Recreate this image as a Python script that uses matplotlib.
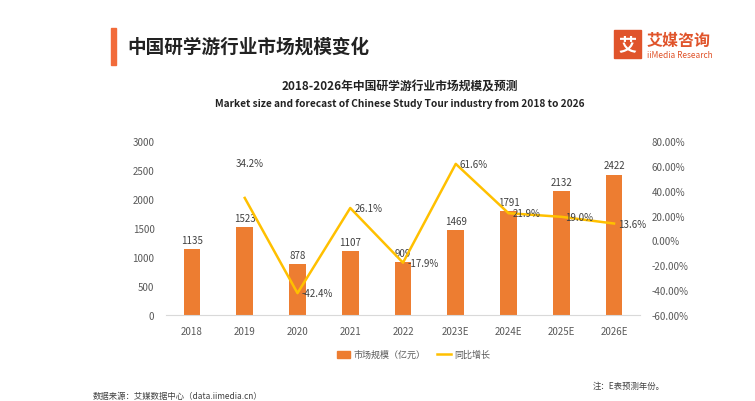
import numpy as np
import matplotlib.pyplot as plt
from matplotlib.patches import Rectangle

plt.rcParams['font.family'] = ['Noto Sans CJK SC', 'DejaVu Sans']

years = ['2018', '2019', '2020', '2021', '2022', '2023E', '2024E', '2025E', '2026E']
market = [1135, 1523, 878, 1107, 909, 1469, 1791, 2132, 2422]
growth = [None, 34.2, -42.4, 26.1, -17.9, 61.6, 21.9, 19.0, 13.6]

bar_color = '#ED7D31'
line_color = '#FFC000'
txt = '#404040'
tick_c = '#595959'

fig = plt.figure(figsize=(7.55, 4.02), dpi=100)
fig.patch.set_facecolor('white')

# header
fig.patches.append(Rectangle((111/755, 1-66/402), 5/755, 37/402, transform=fig.transFigure,
                             color='#F26B3A', zorder=3))
fig.text(127/755, 1-47/402, '中国研学游行业市场规模变化', fontsize=13.4, fontweight='bold',
         color='#222222', va='center', ha='left')
# logo
fig.patches.append(Rectangle((614/755, 1-59/402), 27/755, 28/402, transform=fig.transFigure,
                             color='#E0542B', zorder=3))
fig.text(627.5/755, 1-45/402, '艾', fontsize=13, fontweight='bold', color='white',
         ha='center', va='center', zorder=4)
fig.text(647/755, 1-41/402, '艾媒咨询', fontsize=11.5, fontweight='bold', color='#E0542B',
         ha='left', va='center')
fig.text(647/755, 1-55/402, 'iiMedia Research', fontsize=6, color='#E0542B',
         ha='left', va='center')

# chart titles
fig.text(400/755, 1-87/402, '2018-2026年中国研学游行业市场规模及预测', fontsize=8.5,
         fontweight='bold', color='#222222', ha='center', va='center')
fig.text(400/755, 1-104/402, 'Market size and forecast of Chinese Study Tour industry from 2018 to 2026',
         fontsize=7.3, fontweight='bold', color='#222222', ha='center', va='center')

ax = fig.add_axes([165.6/755, 86/402, 474.8/755, 174/402])
x = np.arange(len(years))
ax.bar(x, market, width=0.32, color=bar_color, zorder=2)
for xi, v in zip(x, market):
    ax.text(xi, v + 70, str(v), ha='center', va='bottom', fontsize=7, color=txt)
ax.set_xlim(-0.5, len(years) - 0.5)
ax.set_ylim(0, 3000)
ax.set_yticks(range(0, 3001, 500))
ax.set_xticks(x)
ax.set_xticklabels(years)
ax.tick_params(axis='both', length=0, labelsize=7, colors=tick_c)
ax.tick_params(axis='x', pad=8)
ax.tick_params(axis='y', pad=8)
for s in ['top', 'left', 'right']:
    ax.spines[s].set_visible(False)
ax.spines['bottom'].set_color('#D9D9D9')

ax2 = ax.twinx()
gx = [xi for xi, g in zip(x, growth) if g is not None]
gy = [g for g in growth if g is not None]
ax2.plot(gx, gy, color=line_color, lw=1.8, zorder=3)
for i, (xi, g) in enumerate(zip(gx, gy)):
    if i == 0:
        ax2.text(xi + 0.1, g + 24, f'{g:.1f}%', ha='center', va='bottom', fontsize=7, color=txt)
    else:
        ax2.text(xi + 0.08, g, f'{g:.1f}%', ha='left', va='center', fontsize=7, color=txt)
ax2.set_ylim(-60, 80)
ax2.set_yticks(range(-60, 81, 20))
ax2.set_yticklabels([f'{v:.2f}%' for v in range(-60, 81, 20)])
ax2.tick_params(axis='y', length=0, labelsize=7, colors=tick_c, pad=8)
for s in ['top', 'left', 'right', 'bottom']:
    ax2.spines[s].set_visible(False)

# legend
fig.patches.append(Rectangle((337/755, 1-359/402), 13/755, 7/402, transform=fig.transFigure,
                             color=bar_color))
fig.text(353/755, 1-355/402, '市场规模（亿元）', fontsize=6.5, color=tick_c, va='center', ha='left')
fig.lines.append(plt.Line2D([437/755, 451/755], [1-355/402, 1-355/402], transform=fig.transFigure,
                            color=line_color, lw=1.8))
fig.text(454/755, 1-355/402, '同比增长', fontsize=6.5, color=tick_c, va='center', ha='left')

fig.text(593/755, 1-386/402, '注：E表预测年份。', fontsize=6, color='#404040', va='center', ha='left')
fig.text(93/755, 1-397/402, '数据来源：艾媒数据中心（data.iimedia.cn）', fontsize=6, color='#404040',
         va='center', ha='left')

fig.savefig('out.png', dpi=100, facecolor='white')
